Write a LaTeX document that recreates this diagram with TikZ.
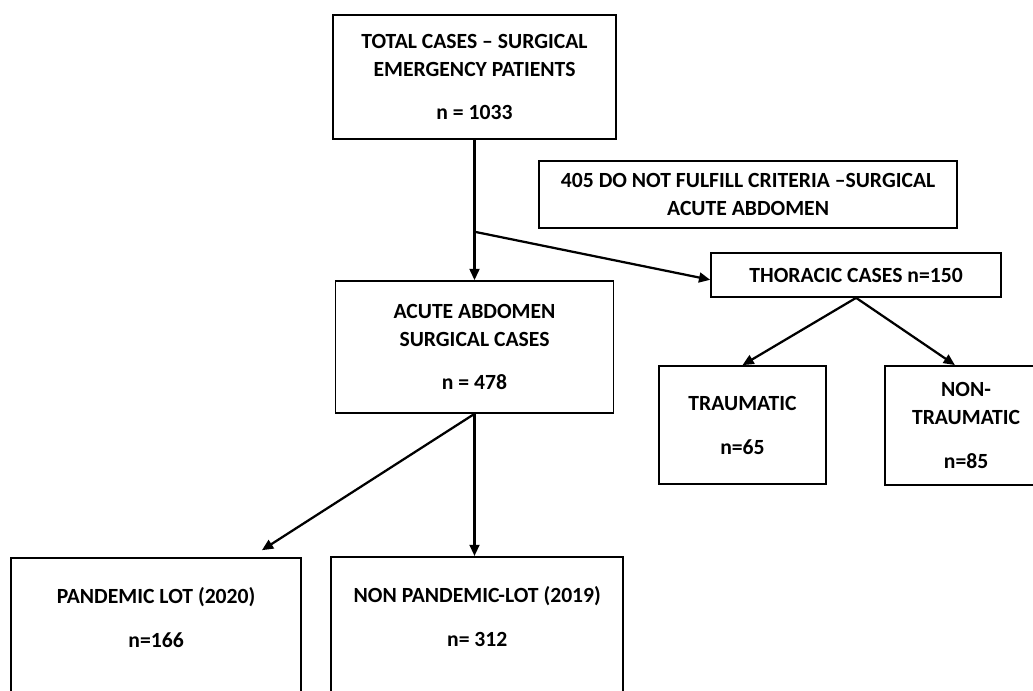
\documentclass[tikz,border=0pt]{standalone}
\usepackage{fontspec}
\setmainfont{Carlito}
\usetikzlibrary{arrows.meta, calc}

\tikzstyle{frame} = [rectangle, draw=black, line width=1.2pt, inner sep=0pt, font=\bfseries\fontsize{15.4}{19.9}\selectfont]
\tikzstyle{box} = [frame, align=center]
\tikzstyle{lowbox} = [frame, text height=1.15cm, text depth=6cm]
\tikzstyle{arrow} = [line width=1.6pt, -{Triangle[length=8pt, width=7pt]}]

\begin{document}
\begin{tikzpicture}[node distance=6.75cm]

    % Page frame
    \useasboundingbox (0,0) rectangle (25.825,-17.275);
    \clip (0,0) rectangle (25.825,-17.275);

    % Nodes
    \node (total) [box, minimum width=7.075cm, minimum height=3.1cm] at (11.8625,-1.925) {TOTAL CASES – SURGICAL\\EMERGENCY PATIENTS\\[0.4cm]n = 1033};
    \node (criteria) [box, right of=total, xshift=0.09cm, yshift=-2.94cm, minimum width=10.45cm, minimum height=1.675cm] {405 DO NOT FULFILL CRITERIA –SURGICAL\\ACUTE ABDOMEN};
    \node (acute) [box, below of=total, minimum width=6.95cm, minimum height=3.3cm] {ACUTE ABDOMEN\\SURGICAL CASES\\[0.4cm]n = 478};
    \node (thoracic) [box, right of=acute, xshift=2.79cm, yshift=1.8cm, minimum width=7.25cm, minimum height=1.1cm] {THORACIC CASES n=150};
    \node (traumatic) [box, below of=thoracic, node distance=3.75cm, xshift=-2.84cm, minimum width=4.175cm, minimum height=2.95cm] {TRAUMATIC\\[0.4cm]n=65};
    \node (nontraumatic) [box, below of=thoracic, node distance=3.76cm, xshift=2.75cm, minimum width=4.05cm, minimum height=2.975cm] {NON-\\TRAUMATIC\\[0.4cm]n=85};
    \node (pandemic) [lowbox, below of=acute, node distance=5.25cm, xshift=-7.96cm, anchor=north, minimum width=7.25cm] {\begin{tabular}[t]{c}PANDEMIC LOT (2020)\\[0.4cm]n=166\end{tabular}};
    \node (nonpandemic) [lowbox, below of=acute, node distance=5.225cm, xshift=0.07cm, anchor=north, minimum width=7.3cm] {\begin{tabular}[t]{c}NON PANDEMIC-LOT (2019)\\[0.4cm]n= 312\end{tabular}};
    \coordinate (split) at ($(total.south)!0.655!(acute.north)$);

    % Arrows
    \draw [arrow] (total.south) -- (acute.north);
    \draw [arrow] (split) -- ([yshift=-0.12cm]thoracic.west);
    \draw [arrow] (acute.south) -- ([xshift=-1cm, yshift=0.17cm]pandemic.north east);
    \draw [arrow] (acute.south) -- (acute.south |- nonpandemic.north);
    \draw [arrow] (thoracic.south) -- (traumatic.north);
    \draw [arrow] (thoracic.south) -- ([xshift=-0.28cm]nontraumatic.north);

\end{tikzpicture}
\end{document}
